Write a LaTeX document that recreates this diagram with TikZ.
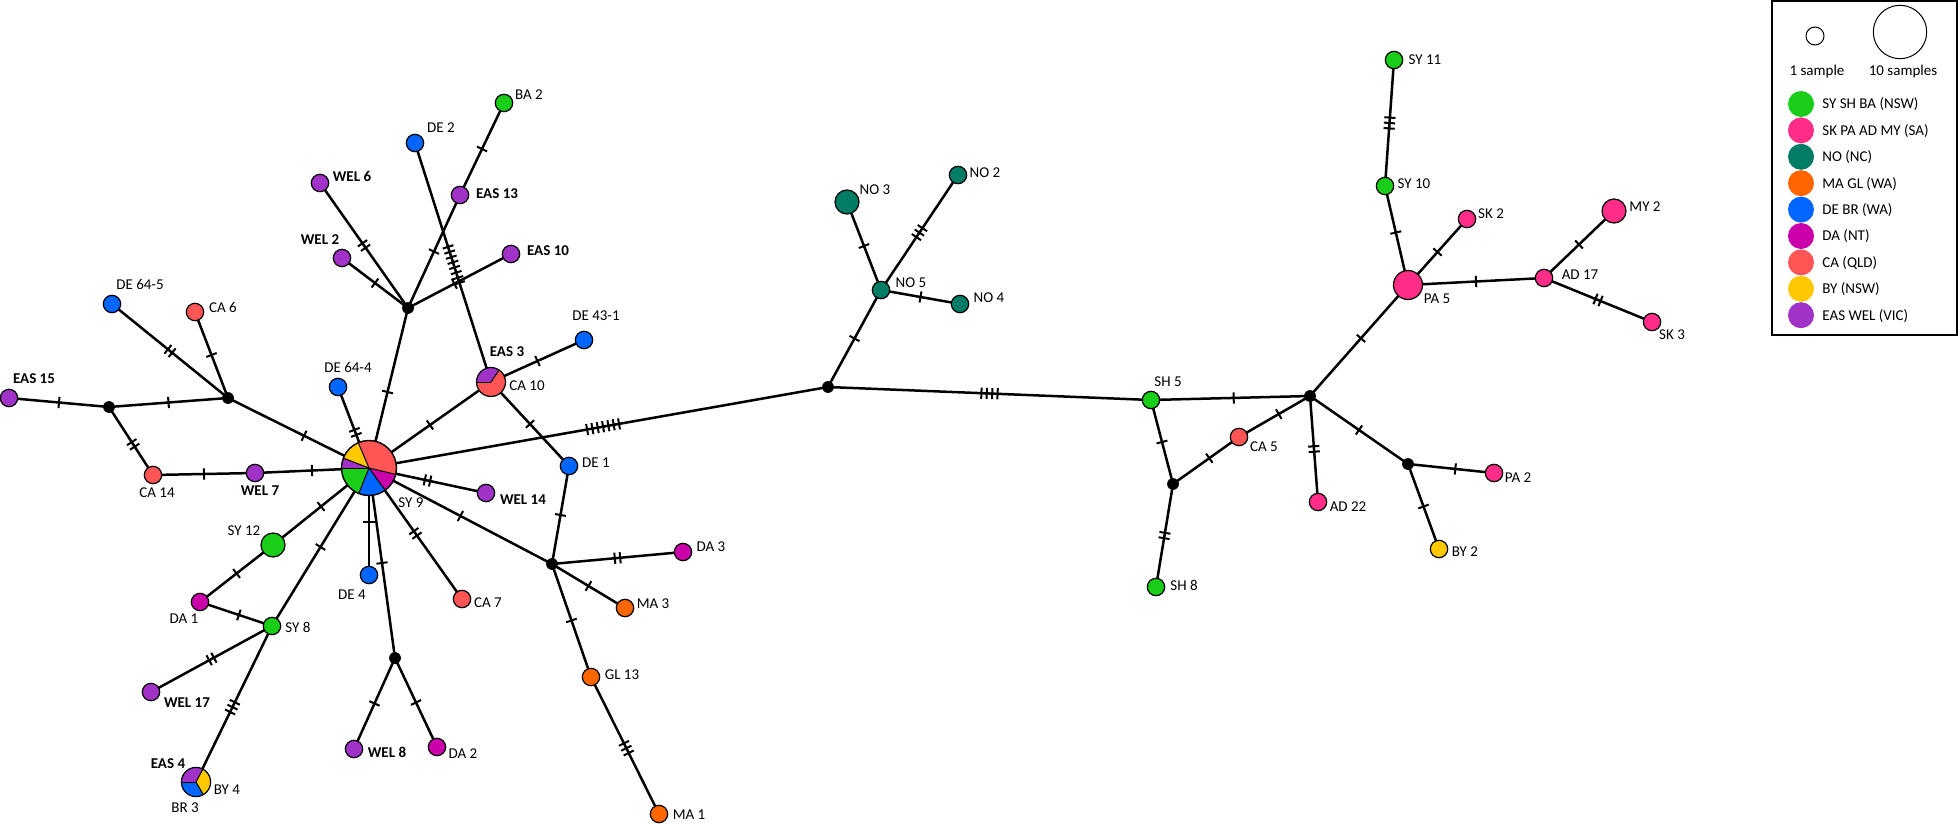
\documentclass[tikz,border=0pt]{standalone}
\usepackage{fontspec}
\setmainfont{Carlito}
\usetikzlibrary{decorations.markings}
\definecolor{cNSW}{RGB}{25,205,25}
\definecolor{cSA}{RGB}{255,45,135}
\definecolor{cNC}{RGB}{0,125,100}
\definecolor{cWAo}{RGB}{255,102,0}
\definecolor{cWAb}{RGB}{0,102,255}
\definecolor{cNT}{RGB}{204,0,170}
\definecolor{cQLD}{RGB}{255,85,85}
\definecolor{cBY}{RGB}{255,200,0}
\definecolor{cVIC}{RGB}{160,50,200}
\pgfdeclarelayer{background}
\pgfsetlayers{background,main}
\tikzset{
  hap/.style={circle, draw=black, line width=0.6pt, inner sep=0pt, minimum size=8.7pt, fill=#1},
  midhap/.style={hap=#1, minimum size=12pt},
  bighap/.style={hap=#1, minimum size=14.5pt},
  jn/.style={circle, fill=black, inner sep=0pt, minimum size=5.9pt},
  lbl/.style={inner sep=0pt, text height=4.8pt, text depth=0pt},
  blbl/.style={lbl, font=\fontsize{7.5}{9}\selectfont\bfseries},
  edge/.style={line width=1.25pt},
  tk/.style 2 args={postaction={decorate, decoration={markings,
     mark=at position #1 with {\foreach \k in {1,...,#2}{\draw[line width=1pt] ({(\k-(#2+1)/2)*2.7pt},-2.8pt) -- ({(\k-(#2+1)/2)*2.7pt},2.8pt);}}}}},
}
\newcommand{\mylink}[4][0.5]{\draw[edge,tk={#1}{#4}] (#2.center) -- (#3.center);}
\begin{document}
\begin{tikzpicture}[x=0.5pt,y=-0.5pt, font=\fontsize{7.5}{9}\selectfont]
\useasboundingbox (0,0) rectangle (1960,824);
% ---------- haplotypes ----------
% left
\node[hap=cVIC] (EAS15) at (9,398) {};
\node[jn] (J1) at (109,407) {};
\node[jn] (J2) at (228,398) {};
\node[hap=cWAb] (DE645) at (112,304) {};
\node[hap=cQLD] (CA6) at (195,312) {};
\node[hap=cQLD] (CA14) at (153,475) {};
\node[hap=cVIC] (WEL7) at (255,473) {};
\node[circle, inner sep=0pt, minimum size=27.5pt] (hub) at (369,468) {};
\node[hap=cWAb] (DE644) at (338,387) {};
\node[circle, inner sep=0pt, minimum size=14.5pt] (CA10) at (491,382) {};
\node[hap=cVIC] (WEL14) at (486,493) {};
\node[hap=cWAb] (DE1) at (569,466) {};
\node[hap=cWAb] (DE431) at (584,340) {};
% top
\node[hap=cNSW] (BA2) at (504,103) {};
\node[hap=cWAb] (DE2) at (415,143) {};
\node[hap=cVIC] (WEL6) at (320,183) {};
\node[hap=cVIC] (EAS13) at (460,195) {};
\node[hap=cVIC] (WEL2) at (342,258) {};
\node[hap=cVIC] (EAS10) at (511,254) {};
\node[jn] (J3) at (408,308) {};
% bottom
\node[midhap=cNSW] (SY12) at (273,545) {};
\node[hap=cNT] (DA1) at (200,602) {};
\node[hap=cNSW] (SY8) at (272,626) {};
\node[hap=cWAb] (DE4) at (369,575) {};
\node[hap=cQLD] (CA7) at (462,599) {};
\node[jn] (J5) at (395,658) {};
\node[hap=cVIC] (WEL8) at (354,749) {};
\node[hap=cNT] (DA2) at (437,747) {};
\node[hap=cVIC] (WEL17) at (151,692) {};
\node[circle, inner sep=0pt, minimum size=14.6pt] (EAS4) at (196,782) {};
% middle
\node[jn] (J4) at (552,564) {};
\node[hap=cNT] (DA3) at (683,552) {};
\node[hap=cWAo] (MA3) at (625,608) {};
\node[hap=cWAo] (GL13) at (591,677) {};
\node[hap=cWAo] (MA1) at (659,814) {};
% NO
\node[jn] (Jmid) at (828,387) {};
\node[hap=cNC] (NO5) at (881,290) {};
\node[midhap=cNC] (NO3) at (847,202) {};
\node[hap=cNC] (NO2) at (958,175) {};
\node[hap=cNC] (NO4) at (960,304) {};
% right
\node[hap=cNSW] (SH5) at (1151,400) {};
\node[jn] (J6) at (1310,396) {};
\node[hap=cQLD] (CA5) at (1239,437) {};
\node[jn] (J7) at (1173,484) {};
\node[hap=cNSW] (SH8) at (1156,587) {};
\node[hap=cSA] (AD22) at (1318,502) {};
\node[jn] (J8) at (1408,464) {};
\node[hap=cSA] (PA2) at (1494,473) {};
\node[hap=cBY] (BY2) at (1439,549) {};
\node[bighap=cSA] (PA5) at (1408,285) {};
\node[hap=cNSW] (SY10) at (1385,186) {};
\node[hap=cNSW] (SY11) at (1394,60) {};
\node[hap=cSA] (SK2) at (1467,219) {};
\node[hap=cSA] (AD17) at (1544,278) {};
\node[midhap=cSA] (MY2) at (1614,211) {};
\node[hap=cSA] (SK3) at (1652,322) {};
% ---------- pies ----------
\foreach \a/\b/\c in {346.5/473/cQLD, 113/159/cBY, 159/180/cVIC, 180/248/cNSW, 248/306/cWAb, 306/346.5/cNT}
  \fill[\c] (hub.center) -- ++(\a:13.75pt) arc[start angle=\a, end angle=\b, radius=13.75pt] -- cycle;
\foreach \a in {113,159,180,248,306,346.5}
  \draw[line width=0.5pt] (hub.center) -- ++(\a:13.75pt);
\draw[line width=0.7pt] (hub.center) circle[radius=13.75pt];
\foreach \a/\b/\c in {56/180/cVIC, 180/416/cQLD}
  \fill[\c] (CA10.center) -- ++(\a:7.25pt) arc[start angle=\a, end angle=\b, radius=7.25pt] -- cycle;
\foreach \a in {56,180}
  \draw[line width=0.5pt] (CA10.center) -- ++(\a:7.25pt);
\draw[line width=0.6pt] (CA10.center) circle[radius=7.25pt];
\foreach \a/\b/\c in {62/180/cVIC, 180/300/cWAb, 300/422/cBY}
  \fill[\c] (EAS4.center) -- ++(\a:7.3pt) arc[start angle=\a, end angle=\b, radius=7.3pt] -- cycle;
\foreach \a in {62,180,300}
  \draw[line width=0.5pt] (EAS4.center) -- ++(\a:7.3pt);
\draw[line width=0.6pt] (EAS4.center) circle[radius=7.3pt];
% ---------- connectors ----------
\begin{pgfonlayer}{background}
\mylink{EAS15}{J1}{1}
\mylink{J1}{J2}{1}
\mylink[0.55]{J1}{CA14}{2}
\mylink{J2}{DE645}{2}
\mylink{J2}{CA6}{1}
\mylink[0.54]{J2}{hub}{1}
\mylink{CA14}{WEL7}{1}
\mylink{WEL7}{hub}{1}
\mylink[0.44]{hub}{DE644}{2}
\mylink[0.475]{hub}{J3}{1}
\mylink{J3}{WEL6}{2}
\mylink{J3}{WEL2}{1}
\mylink{J3}{EAS13}{1}
\mylink{EAS13}{BA2}{1}
\mylink[0.45]{J3}{EAS10}{1}
\mylink[0.51]{DE2}{CA10}{8}
\mylink{hub}{CA10}{1}
\mylink{CA10}{DE431}{1}
\mylink{CA10}{DE1}{1}
\mylink[0.51]{hub}{Jmid}{7}
\mylink{hub}{WEL14}{2}
\mylink{hub}{J4}{1}
\mylink{hub}{CA7}{2}
\mylink{hub}{J5}{1}
\mylink{hub}{DE4}{1}
\mylink{hub}{SY8}{1}
\mylink{hub}{SY12}{1}
\mylink{SY12}{DA1}{1}
\mylink[0.54]{DA1}{SY8}{1}
\mylink{SY8}{WEL17}{2}
\mylink[0.52]{SY8}{EAS4}{3}
\mylink{J5}{WEL8}{1}
\mylink{J5}{DA2}{1}
\mylink{DE1}{J4}{1}
\mylink{J4}{DA3}{2}
\mylink{J4}{MA3}{1}
\mylink{J4}{GL13}{1}
\mylink[0.52]{GL13}{MA1}{3}
\mylink{Jmid}{NO5}{1}
\mylink{NO5}{NO3}{1}
\mylink{NO5}{NO2}{3}
\mylink{NO5}{NO4}{1}
\mylink{Jmid}{SH5}{4}
\mylink[0.52]{SH5}{J6}{1}
\mylink{SH5}{J7}{1}
\mylink[0.55]{J7}{CA5}{1}
\mylink[0.56]{CA5}{J6}{1}
\mylink{J7}{SH8}{2}
\mylink{J6}{AD22}{2}
\mylink{J6}{J8}{1}
\mylink[0.55]{J8}{PA2}{1}
\mylink{J8}{BY2}{1}
\mylink[0.52]{J6}{PA5}{1}
\mylink[0.53]{PA5}{SY10}{1}
\mylink{SY10}{SY11}{3}
\mylink{PA5}{SK2}{1}
\mylink{PA5}{AD17}{1}
\mylink{AD17}{MY2}{1}
\mylink{AD17}{SK3}{2}
\end{pgfonlayer}
% ---------- labels ----------
\node[blbl] (tEAS15) at (34,379) {EAS 15};
\node[lbl] (tDE645) at (140,285) {DE 64-5};
\node[lbl] (tCA6) at (223,308) {CA 6};
\node[lbl] (tCA14) at (157,493) {CA 14};
\node[blbl] (tWEL7) at (260,491) {WEL 7};
\node[lbl] (tDE644) at (348,368) {DE 64-4};
\node[blbl] (tEAS3) at (507,352) {EAS 3};
\node[lbl] (tCA10) at (527,386) {CA 10};
\node[blbl] (tWEL14) at (523,500) {WEL 14};
\node[lbl] (tDE1) at (596,463) {DE 1};
\node[lbl] (tDE431) at (596,316) {DE 43-1};
\node[lbl] (tSY9) at (411,503) {SY 9};
\node[lbl] (tBA2) at (529,95) {BA 2};
\node[lbl] (tDE2) at (441,128) {DE 2};
\node[blbl] (tWEL6) at (352,177) {WEL 6};
\node[blbl] (tEAS13) at (497,194) {EAS 13};
\node[blbl] (tWEL2) at (320,240) {WEL 2};
\node[blbl] (tEAS10) at (548,251) {EAS 10};
\node[lbl] (tSY12) at (244,531) {SY 12};
\node[lbl] (tDA1) at (184,619) {DA 1};
\node[lbl] (tSY8) at (298,628) {SY 8};
\node[lbl] (tDE4) at (352,595) {DE 4};
\node[lbl] (tCA7) at (488,603) {CA 7};
\node[blbl] (tWEL8) at (387,753) {WEL 8};
\node[lbl] (tDA2) at (463,754) {DA 2};
\node[blbl] (tWEL17) at (187,703) {WEL 17};
\node[blbl] (tEAS4) at (168,764) {EAS 4};
\node[lbl] (tBY4) at (227,790) {BY 4};
\node[lbl] (tBR3) at (185,808) {BR 3};
\node[lbl] (tDA3) at (711,547) {DA 3};
\node[lbl] (tMA3) at (653,604) {MA 3};
\node[lbl] (tGL13) at (622,675) {GL 13};
\node[lbl] (tMA1) at (689,815) {MA 1};
\node[lbl] (tNO2) at (985,173) {NO 2};
\node[lbl] (tNO3) at (875,190) {NO 3};
\node[lbl] (tNO5) at (911,283) {NO 5};
\node[lbl] (tNO4) at (989,298) {NO 4};
\node[lbl] (tSH5) at (1168,382) {SH 5};
\node[lbl] (tCA5) at (1264,447) {CA 5};
\node[lbl] (tSH8) at (1184,586) {SH 8};
\node[lbl] (tAD22) at (1348,507) {AD 22};
\node[lbl] (tPA2) at (1518,478) {PA 2};
\node[lbl] (tBY2) at (1465,552) {BY 2};
\node[lbl] (tPA5) at (1437,299) {PA 5};
\node[lbl] (tSY10) at (1414,184) {SY 10};
\node[lbl] (tSY11) at (1425,60) {SY 11};
\node[lbl] (tSK2) at (1491,214) {SK 2};
\node[lbl] (tAD17) at (1580,275) {AD 17};
\node[lbl] (tMY2) at (1645,207) {MY 2};
\node[lbl] (tSK3) at (1672,335) {SK 3};
% ---------- legend ----------
\node[draw=black, line width=0.7pt, minimum width=92.5pt, minimum height=167pt, inner sep=0pt] (legend) at (1864.5,168) {};
\node[circle, draw=black, line width=0.5pt, minimum size=9pt, inner sep=0pt] (one) at (1815,36) {};
\node[circle, draw=black, line width=0.5pt, minimum size=26.7pt, inner sep=0pt] (ten) at (1900,32) {};
\node[lbl] (tone) at (1817,71) {1 sample};
\node[lbl] (tten) at (1903,71) {10 samples};
\foreach \i/\c/\t in {0/cNSW/SY SH BA (NSW), 1/cSA/SK PA AD MY (SA), 2/cNC/NO (NC), 3/cWAo/MA GL (WA), 4/cWAb/DE BR (WA), 5/cNT/DA (NT), 6/cQLD/CA (QLD), 7/cBY/BY (NSW), 8/cVIC/EAS WEL (VIC)}{
  \node[circle, fill=\c, minimum size=13pt, inner sep=0pt] (leg\i) at (1801,{104+26.4*\i}) {};
  \node[lbl, anchor=west] (legt\i) at (1822,{104+26.4*\i}) {\t};
}
\end{tikzpicture}
\end{document}
